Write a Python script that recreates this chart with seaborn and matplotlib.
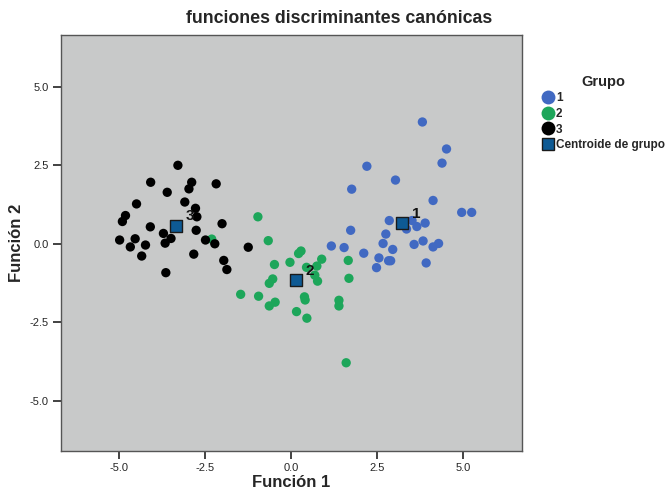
import numpy as np
import pandas as pd
import matplotlib
matplotlib.use("Agg")
import matplotlib.pyplot as plt
import seaborn as sns
from matplotlib.lines import Line2D

# ---- data ----
g1_x = [3.81, 4.51, 4.38, 2.20, 3.03, 1.76, 4.12, 4.95, 5.24, 2.85, 3.51, 3.89, 3.65, 3.35,
        1.73, 2.75, 2.67, 3.83, 3.57, 4.28, 4.12, 1.17, 1.54, 2.95, 2.11, 2.55, 2.83, 2.89,
        3.92, 2.48]
g1_y = [3.88, 3.02, 2.57, 2.47, 2.03, 1.74, 1.38, 1.00, 1.00, 0.74, 0.74, 0.66, 0.55, 0.47,
        0.43, 0.31, 0.01, 0.09, -0.02, 0.01, -0.10, -0.07, -0.12, -0.18, -0.30, -0.45, -0.54,
        -0.54, -0.61, -0.76]
g2_x = [-0.96, -2.30, -0.66, 0.29, 0.22, 0.89, -0.48, -0.03, 1.66, 0.45, 0.75, 0.69, 0.77,
        -0.53, -0.63, 1.68, -1.46, -0.94, 0.39, 0.41, -0.46, -0.63, 1.39, 1.39, 0.16, 0.46, 1.60]
g2_y = [0.86, 0.15, 0.10, -0.23, -0.31, -0.49, -0.66, -0.59, -0.53, -0.75, -0.71, -1.00, -1.19,
        -1.12, -1.26, -1.10, -1.61, -1.67, -1.69, -1.79, -1.86, -1.98, -1.80, -1.98, -2.16,
        -2.37, -3.79]
g3_x = [-3.28, -4.07, -2.88, -2.96, -2.17, -3.59, -4.48, -3.08, -2.77, -4.80, -4.89, -2.73,
        -2.00, -4.08, -2.75, -3.70, -3.48, -3.65, -4.97, -4.52, -4.66, -4.22, -2.48, -2.21,
        -1.24, -4.33, -2.82, -1.95, -1.86, -3.63]
g3_y = [2.50, 1.96, 1.96, 1.75, 1.91, 1.64, 1.27, 1.33, 1.13, 0.90, 0.71, 0.86, 0.64, 0.54,
        0.43, 0.33, 0.17, 0.02, 0.12, 0.16, -0.10, -0.04, 0.12, 0.00, -0.11, -0.39, -0.33,
        -0.53, -0.82, -0.92]
groups = ["1", "2", "3"]
cent_x = [3.22, 0.15, -3.34]
cent_y = [0.65, -1.16, 0.58]

x_ticks = [-5.0, -2.5, 0.0, 2.5, 5.0]
y_ticks = [-5.0, -2.5, 0.0, 2.5, 5.0]

colors = {"1": "#4169C2", "2": "#1DA65A", "3": "#000000"}
bg = "#C8C9C9"
cent_color = "#0E5A94"

df = pd.DataFrame({
    "f1": g1_x + g2_x + g3_x,
    "f2": g1_y + g2_y + g3_y,
    "Grupo": ["1"] * len(g1_x) + ["2"] * len(g2_x) + ["3"] * len(g3_x),
})
cent = pd.DataFrame({"f1": cent_x, "f2": cent_y, "Grupo": groups})

sns.set_style("white")
plt.rcParams["font.family"] = ["Liberation Sans", "DejaVu Sans"]

fig = plt.figure(figsize=(6.69, 4.91), dpi=100)
ax = fig.add_axes([0.0912, 0.0815, 0.6886, 0.8478])
ax.set_facecolor(bg)

sns.scatterplot(data=df, x="f1", y="f2", hue="Grupo", palette=colors, s=45,
                edgecolor="none", ax=ax, legend=False, zorder=3)
sns.scatterplot(data=cent, x="f1", y="f2", marker="s", s=85, color=cent_color,
                edgecolor="#1a1a1a", linewidth=1.0, ax=ax, legend=False, zorder=4)
for gx, gy, g in zip(cent_x, cent_y, groups):
    ax.annotate(g, (gx, gy), xytext=(7, 4), textcoords="offset points",
                fontsize=11, fontweight="bold", color="#111111", zorder=5)

ax.set_xlim(-6.67, 6.69)
ax.set_ylim(-6.60, 6.66)
ax.set_xticks(x_ticks)
ax.set_yticks(y_ticks)
ax.set_xticklabels([f"{v:.1f}" for v in x_ticks], fontsize=8)
ax.set_yticklabels([f"{v:.1f}" for v in y_ticks], fontsize=8)
ax.tick_params(axis="both", direction="out", length=6, width=1.2, color="#222222", pad=3,
               bottom=True, left=True)
for s in ax.spines.values():
    s.set_color("#555555")
    s.set_linewidth(1.0)

ax.set_xlabel("Función 1", fontsize=12, fontweight="bold", labelpad=1)
ax.set_ylabel("Función 2", fontsize=12, fontweight="bold", labelpad=4)
fig.text(0.507, 0.963, "funciones discriminantes canónicas", ha="center", va="center",
         fontsize=12.8, fontweight="bold")

handles = [
    Line2D([], [], marker="o", linestyle="none", markersize=10, markerfacecolor=colors["1"], markeredgecolor="none"),
    Line2D([], [], marker="o", linestyle="none", markersize=10, markerfacecolor=colors["2"], markeredgecolor="none"),
    Line2D([], [], marker="o", linestyle="none", markersize=10, markerfacecolor=colors["3"], markeredgecolor="none"),
    Line2D([], [], marker="s", linestyle="none", markersize=9, markerfacecolor=cent_color, markeredgecolor="#1a1a1a"),
]
leg = fig.legend(handles, ["1", "2", "3", "Centroide de grupo"], title="Grupo",
                 loc="upper left", bbox_to_anchor=(0.802, 0.857), frameon=False,
                 prop={"size": 8.5, "weight": "bold"}, handletextpad=0.15,
                 labelspacing=0.3, handlelength=1.1, borderaxespad=0)
leg.get_title().set_fontweight("bold")
leg.get_title().set_fontsize(10.5)

fig.savefig("out.png", dpi=100, facecolor="white")
